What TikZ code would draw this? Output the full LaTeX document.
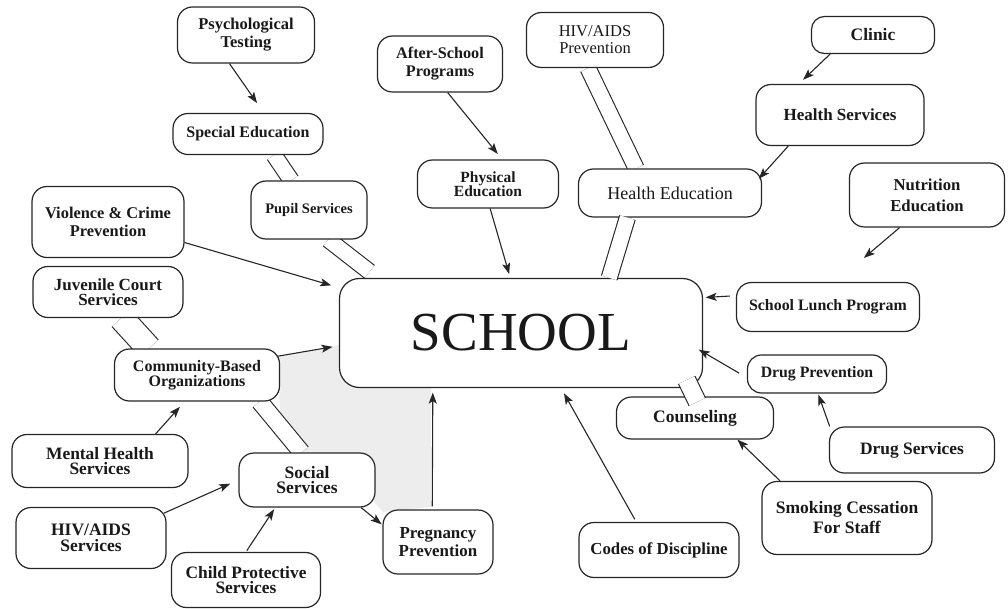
\documentclass[tikz,border=0pt]{standalone}
\usepackage{fontspec}
\setmainfont{Liberation Serif}
\usetikzlibrary{arrows.meta,backgrounds}
\newcommand\fsz[2]{\fontsize{#1}{#2}\selectfont\lineskiplimit=-100pt\relax}
\begin{document}
\begin{tikzpicture}[x=1pt,y=-1pt,
  box/.style={draw=black!85, line width=1.2pt, rounded corners=15pt, fill=white,
    align=center, inner sep=0pt, text=black!90},
  arr/.style={draw=black!85, line width=1.1pt, -{Stealth[length=11pt,width=8pt,inset=2.5pt]}},
  dbl/.style={draw=black!85, line width=1.1pt, double=white, double distance=15pt}]
\useasboundingbox (0,0) rectangle (1008,609);

% nodes
\node[box, minimum width=137pt, minimum height=56pt, font=\fsz{16.5}{18}\bfseries] (psy) at (246,35) {Psychological\\Testing};
\node[box, minimum width=150pt, minimum height=41pt, font=\fsz{16}{18}\bfseries] (spec) at (248,134) {Special Education};
\node[box, minimum width=116pt, minimum height=58pt, font=\fsz{14.5}{17}\bfseries] (pupil) at (309,210) {Pupil Services};
\node[box, minimum width=152pt, minimum height=71pt, font=\fsz{16.4}{18}\bfseries] (viol) at (108,222) {Violence \& Crime\\Prevention};
\node[box, minimum width=150pt, minimum height=51pt, font=\fsz{17}{15}\bfseries] (juv) at (108,292) {Juvenile Court\\Services};
\node[box, minimum width=125pt, minimum height=56pt, font=\fsz{16.2}{18}\bfseries] (after) at (440,64) {After-School\\Programs};
\node[box, minimum width=141pt, minimum height=48pt, font=\fsz{15.5}{14}\bfseries] (phys) at (488,184) {Physical\\Education};
\node[box, minimum width=137pt, minimum height=55pt, font=\fsz{16.5}{17}] (hivp) at (595,40) {HIV/AIDS\\Prevention};
\node[box, rounded corners=13pt, minimum width=123pt, minimum height=37pt, font=\fsz{17.5}{19}\bfseries] (clinic) at (873,35) {Clinic};
\node[box, minimum width=168pt, minimum height=61pt, font=\fsz{17}{19}\bfseries] (hserv) at (840,115) {Health Services};
\node[box, minimum width=183pt, minimum height=48pt, font=\fsz{18}{20}] (hedu) at (670,193) {Health Education};
\node[box, minimum width=155pt, minimum height=64pt, font=\fsz{16.7}{21}\bfseries] (nutr) at (927,195) {Nutrition\\Education};
\node[box, rounded corners=20pt, minimum width=363pt, minimum height=109pt, font=\fsz{55}{60}] (school) at (521,333) {SCHOOL};
\node[box, minimum width=183pt, minimum height=49pt, font=\fsz{15.9}{18}\bfseries] (lunch) at (828,307) {School Lunch Program};
\node[box, rounded corners=14pt, minimum width=139pt, minimum height=38pt, font=\fsz{15.8}{18}\bfseries] (drugp) at (817,374) {Drug Prevention};
\node[box, minimum width=157pt, minimum height=42pt, font=\fsz{17.5}{19}\bfseries] (couns) at (695,418) {Counseling};
\node[box, minimum width=165pt, minimum height=46pt, font=\fsz{17.4}{19}\bfseries] (drugs) at (912,450) {Drug Services};
\node[box, minimum width=170pt, minimum height=73pt, font=\fsz{17.5}{20}\bfseries] (smoke) at (847,518) {Smoking Cessation\\For Staff};
\node[box, minimum width=160pt, minimum height=55pt, font=\fsz{16.8}{19}\bfseries] (codes) at (659,550) {Codes of Discipline};
\node[box, minimum width=110pt, minimum height=64pt, font=\fsz{16.9}{18.5}\bfseries] (preg) at (438,542) {Pregnancy\\Prevention};
\node[box, minimum width=136pt, minimum height=54pt, font=\fsz{17.5}{15.5}\bfseries] (social) at (307,480) {Social\\Services};
\node[box, minimum width=149pt, minimum height=55pt, font=\fsz{17.4}{15.5}\bfseries] (child) at (246,580) {Child Protective\\Services};
\node[box, minimum width=150pt, minimum height=61pt, font=\fsz{17.5}{15.5}\bfseries] (hivs) at (91,538) {HIV/AIDS\\Services};
\node[box, minimum width=176pt, minimum height=53pt, font=\fsz{17.4}{15.5}\bfseries] (mental) at (100,461) {Mental Health\\Services};
\node[box, minimum width=165pt, minimum height=52pt, font=\fsz{16}{15}\bfseries] (cbo) at (197,375) {Community-Based\\Organizations};

% background: page, shaded area, double connectors
\begin{pgfonlayer}{background}
\fill[white] (0,0) rectangle (1008,609);
\fill[black!7] (278,357) -- (340,345) -- (340,370) -- (352,386) -- (431,388) -- (431,507)
  -- (383,512) -- (372,500) -- (370,470) -- (345,455) -- (300,452) -- (280,415) -- cycle;
\draw[dbl] (spec.-39.6) -- (pupil.121);
\draw[dbl, shorten >=10pt] (pupil.-57.5) -- (school.159.8);
\draw[dbl] (hivp.-104) -- (hedu.144.8);
\draw[dbl, double distance=24pt] (juv.-63) -- (cbo.151);
\draw[dbl, double distance=16pt] (cbo.-23) -- (social.101);
\end{pgfonlayer}

% double connectors drawn over the boxes
\draw[dbl] (hedu.-150.5) -- (school.32.2);
\draw[dbl, double distance=17pt, shorten <=-9pt, shorten >=-6pt] (school.-18) -- (couns.91);

% arrows
\draw[arr, shorten >=12pt] (psy.-120) -- (spec.53);
\draw[arr, shorten >=7pt] (after.-75) -- (phys.60);
\draw[arr, shorten >=4pt] (phys.-85) -- (school.101);
\draw[arr, shorten >=8pt] (viol.-15) -- (school.166.5);
\draw[arr, shorten >=6pt] (clinic.-156) -- (hserv.143);
\draw[arr, shorten >=-5pt] (hserv.-149) -- (hedu.11.5);
\draw[arr, shorten >=37pt] (nutr.-130) -- (lunch.73);
\draw[arr, shorten <=6pt, shorten >=2.5pt] (lunch.173) -- (school.11.5);
\draw[arr, shorten <=9pt, shorten >=-5pt] (drugp.-177) -- (school.-6.4);
\draw[arr, shorten >=1pt] (drugs.164) -- (drugp.-87);
\draw[arr] (smoke.151) -- (couns.-27);
\draw[arr, shorten <=3pt, shorten >=6pt] (codes.129) -- (school.-54.5);
\draw[arr, shorten <=3pt, shorten >=4.5pt] (preg.100.6) -- (school.-148.5);
\draw[arr, shorten >=1pt] (social.-27) -- (preg.163.6);
\draw[arr, shorten <=-3pt, shorten >=9pt] (hivs.19.6) -- (social.180);
\draw[arr, shorten <=1.5pt, shorten >=2pt] (child.90) -- (social.-139);
\draw[arr, shorten >=7pt] (mental.26.6) -- (cbo.-115);
\draw[arr, shorten <=-3pt, shorten >=6.5pt] (cbo.13.6) -- (school.-176.6);
\end{tikzpicture}
\end{document}
